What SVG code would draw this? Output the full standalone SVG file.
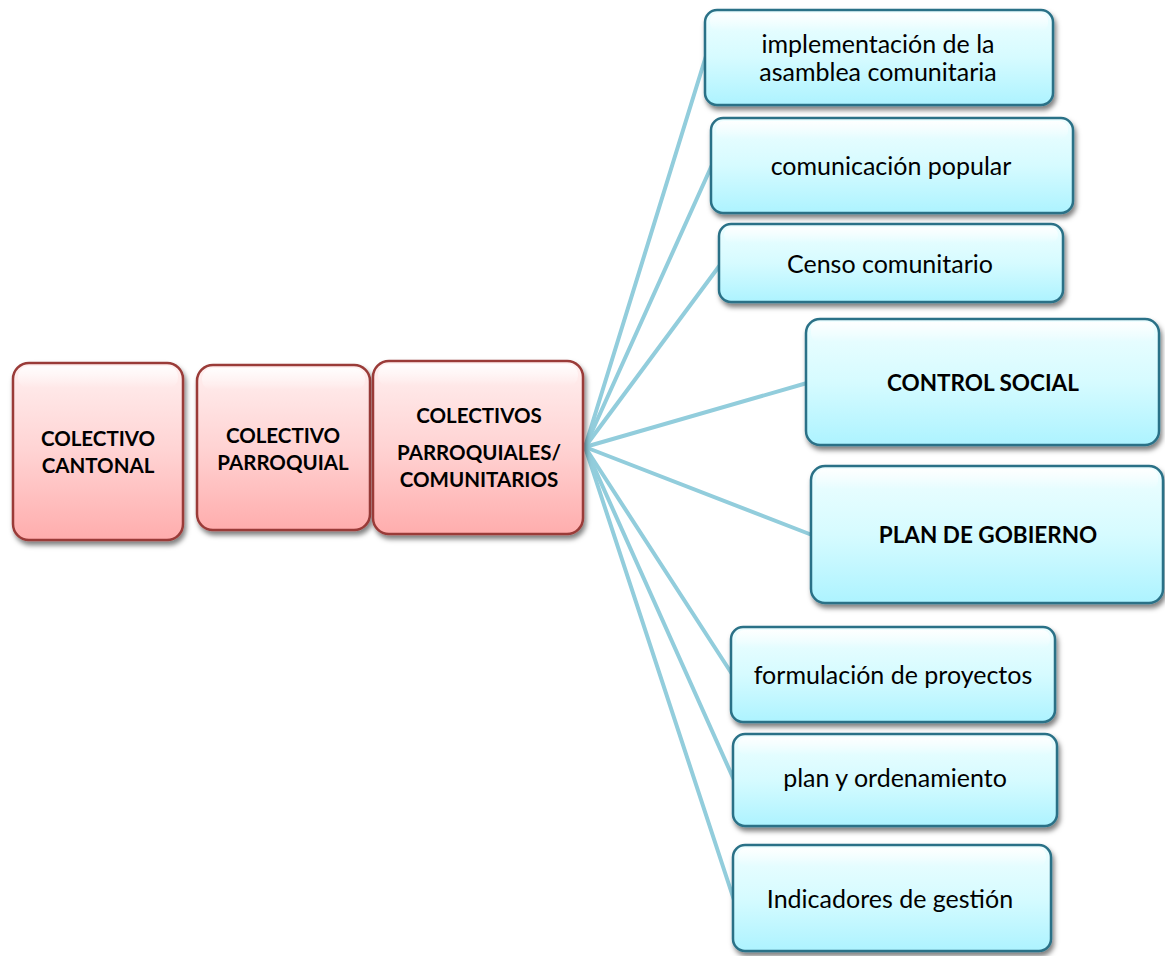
<svg xmlns="http://www.w3.org/2000/svg" width="1165" height="956" viewBox="0 0 1165 956">
<defs>
<linearGradient id="gPink" x1="0" y1="0" x2="0" y2="1">
<stop offset="0" stop-color="#FFF0F0"/>
<stop offset="0.5" stop-color="#FFD3D3"/>
<stop offset="1" stop-color="#FFADAD"/>
</linearGradient>
<linearGradient id="gBlue" x1="0" y1="0" x2="0" y2="1">
<stop offset="0" stop-color="#EEFEFF"/>
<stop offset="0.5" stop-color="#D6FBFF"/>
<stop offset="1" stop-color="#ADF3FF"/>
</linearGradient>
<linearGradient id="gGloss" x1="0" y1="0" x2="0" y2="1">
<stop offset="0" stop-color="#FFFFFF" stop-opacity="0.9"/>
<stop offset="1" stop-color="#FFFFFF" stop-opacity="0"/>
</linearGradient>
<filter id="sh" x="-10%" y="-10%" width="125%" height="130%">
<feDropShadow dx="2" dy="4" stdDeviation="2.5" flood-color="#000" flood-opacity="0.5"/>
</filter>
<style>
.pink{fill:url(#gPink);stroke:#9A3B38;stroke-width:2.5;filter:url(#sh)}
.blue{fill:url(#gBlue);stroke:#2A7187;stroke-width:2.5;filter:url(#sh)}
.gloss{fill:url(#gGloss);stroke:none}
.t{font-family:"Lato","Open Sans","Liberation Sans",sans-serif;font-size:25px;fill:#000;text-anchor:middle}
.b{font-family:"Lato","Open Sans","Liberation Sans",sans-serif;font-weight:bold;font-size:22.5px;fill:#000;text-anchor:middle}
.pb{font-family:"Lato","Open Sans","Liberation Sans",sans-serif;font-weight:bold;font-size:20.5px;fill:#000;text-anchor:middle}
.c{stroke:#92CDDC;stroke-width:4;fill:none;stroke-linecap:round}
</style>
</defs>
<rect width="1165" height="956" fill="#FFFFFF"/>
<g id="connectors">
<line class="c" x1="585" y1="447" x2="706" y2="56"/>
<line class="c" x1="585" y1="447" x2="712" y2="165"/>
<line class="c" x1="585" y1="447" x2="720" y2="265"/>
<line class="c" x1="585" y1="447" x2="807" y2="383"/>
<line class="c" x1="585" y1="447" x2="812" y2="535"/>
<line class="c" x1="585" y1="447" x2="732" y2="674"/>
<line class="c" x1="585" y1="447" x2="734" y2="780"/>
<line class="c" x1="585" y1="447" x2="734" y2="900"/>
</g>
<g id="n-cantonal">
<rect class="pink" x="13" y="363" width="170" height="177" rx="16"/>
<rect class="gloss" x="18" y="366" width="160" height="22" rx="10"/>
<text class="pb" x="98" y="446">COLECTIVO</text>
<text class="pb" x="98" y="473">CANTONAL</text>
</g>
<g id="n-parroquial">
<rect class="pink" x="197" y="365" width="173" height="165" rx="16"/>
<rect class="gloss" x="202" y="368" width="163" height="22" rx="10"/>
<text class="pb" x="283" y="443">COLECTIVO</text>
<text class="pb" x="283" y="470">PARROQUIAL</text>
</g>
<g id="n-comunitarios">
<rect class="pink" x="373" y="361" width="210" height="173" rx="16"/>
<rect class="gloss" x="378" y="364" width="200" height="22" rx="10"/>
<text class="pb" x="479" y="423">COLECTIVOS</text>
<text class="pb" x="479" y="460">PARROQUIALES/</text>
<text class="pb" x="479" y="487">COMUNITARIOS</text>
</g>
<g id="n-asamblea">
<rect class="blue" x="705" y="10" width="348" height="95" rx="12"/>
<rect class="gloss" x="710" y="13" width="338" height="18" rx="8"/>
<text class="t" x="878" y="53">implementación de la</text>
<text class="t" x="878" y="81">asamblea comunitaria</text>
</g>
<g id="n-comunicacion">
<rect class="blue" x="711" y="118" width="362" height="95" rx="12"/>
<rect class="gloss" x="716" y="121" width="352" height="18" rx="8"/>
<text class="t" x="891" y="175">comunicación popular</text>
</g>
<g id="n-censo">
<rect class="blue" x="719" y="224" width="344" height="78" rx="12"/>
<rect class="gloss" x="724" y="227" width="334" height="16" rx="8"/>
<text class="t" x="890" y="273">Censo comunitario</text>
</g>
<g id="n-control">
<rect class="blue" x="806" y="319" width="353" height="126" rx="14"/>
<rect class="gloss" x="811" y="322" width="343" height="20" rx="8"/>
<text class="b" x="983" y="391">CONTROL SOCIAL</text>
</g>
<g id="n-plan-gobierno">
<rect class="blue" x="811" y="466" width="352" height="137" rx="14"/>
<rect class="gloss" x="816" y="469" width="342" height="20" rx="8"/>
<text class="b" x="988" y="543">PLAN DE GOBIERNO</text>
</g>
<g id="n-formulacion">
<rect class="blue" x="731" y="627" width="324" height="95" rx="12"/>
<rect class="gloss" x="736" y="630" width="314" height="18" rx="8"/>
<text class="t" x="893" y="684">formulación de proyectos</text>
</g>
<g id="n-ordenamiento">
<rect class="blue" x="733" y="734" width="324" height="92" rx="12"/>
<rect class="gloss" x="738" y="737" width="314" height="18" rx="8"/>
<text class="t" x="895" y="787">plan y ordenamiento</text>
</g>
<g id="n-indicadores">
<rect class="blue" x="733" y="845" width="318" height="106" rx="12"/>
<rect class="gloss" x="738" y="848" width="308" height="18" rx="8"/>
<text class="t" x="890" y="908">Indicadores de gestión</text>
</g>
</svg>
